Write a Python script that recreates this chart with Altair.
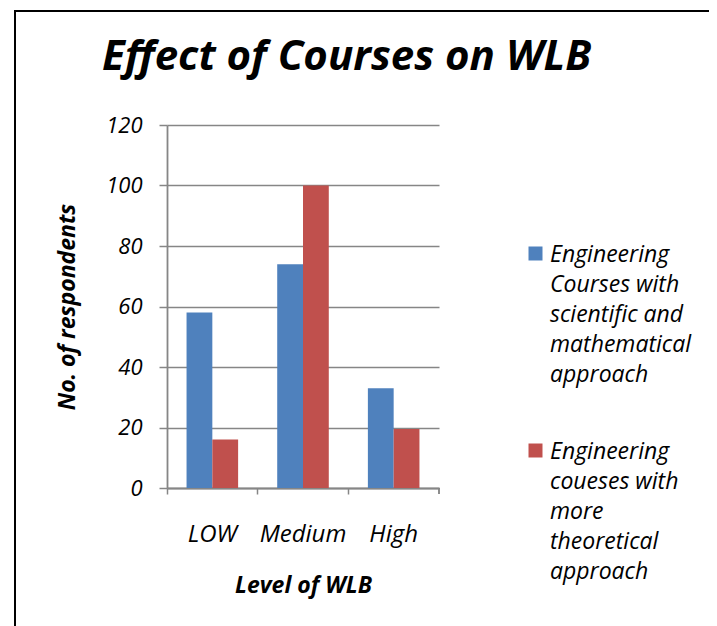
import altair as alt
import pandas as pd

levels = ["LOW", "Medium", "High"]
series_names = [
    "Engineering\nCourses  with\nscientific and\nmathematical\napproach",
    "Engineering\ncoueses with\nmore\ntheoretical\napproach",
]
scientific = [58, 74, 33]
theoretical = [16, 100, 19.5]
colors = ["#4F81BD", "#C0504D"]
y_ticks = [0, 20, 40, 60, 80, 100, 120]
title_text = "Effect of Courses  on WLB"
x_title = "Level of WLB"
y_title = "No. of respondents"

rows = []
for i, lv in enumerate(levels):
    rows.append({"level": lv, "series": series_names[0], "value": scientific[i]})
    rows.append({"level": lv, "series": series_names[1], "value": theoretical[i]})
df = pd.DataFrame(rows)

W, H = 272, 363
FONT = "Open Sans"
GRAY = "#868686"
LABEL_DY = 8  # shared vertical nudge of guide labels (used to align legend text with symbols)

legend = alt.Legend(
    title=None, orient="none", legendX=357, legendY=117,
    symbolType="square", symbolSize=196, symbolStrokeWidth=0,
    labelFont=FONT, labelFontSize=23, labelFontStyle="italic", labelColor="black",
    labelExpr="split(datum.label, '\\n')", labelOffset=3, rowPadding=52,
    labelLimit=0, labelBaseline="alphabetic",
)

xscale = alt.Scale(domain=levels, paddingInner=0, paddingOuter=0)

bars = alt.Chart(df).mark_bar().encode(
    x=alt.X(
        "level:N", sort=levels, scale=xscale,
        axis=alt.Axis(
            title=x_title, bandPosition=0, tickSize=6, tickColor=GRAY, tickWidth=1.5,
            domainColor=GRAY, domainWidth=1.8, grid=False,
            labelPadding=28 - LABEL_DY, labelFont=FONT, labelFontSize=24, labelFontStyle="italic",
            labelAngle=0, labelColor="black",
            titleFont=FONT, titleFontSize=23, titleFontStyle="italic", titleFontWeight="bold",
            titleColor="black", titleY=97, titleBaseline="middle",
        ),
    ),
    xOffset=alt.XOffset("series:N", sort=series_names,
                        scale=alt.Scale(paddingInner=0, paddingOuter=0.758)),
    y=alt.Y(
        "value:Q", scale=alt.Scale(domain=[0, 120]),
        axis=alt.Axis(
            values=y_ticks, title=y_title, tickSize=8, tickColor=GRAY, tickWidth=1.5,
            domainColor=GRAY, domainWidth=1.8, gridColor=GRAY, gridWidth=1.5,
            labelPadding=17, labelOffset=-LABEL_DY, labelFont=FONT, labelFontSize=22,
            labelFontStyle="italic", labelColor="black",
            titleFont=FONT, titleFontSize=23, titleFontStyle="italic", titleFontWeight="bold",
            titleColor="black", titleX=-100, titleY=H / 2, titleAngle=270,
            titleBaseline="middle", titleAlign="center",
        ),
    ),
    color=alt.Color("series:N", sort=series_names,
                    scale=alt.Scale(domain=series_names, range=colors),
                    legend=legend),
)

end_tick = alt.Chart(df[df["level"] == levels[-1]]).mark_rule(
    color=GRAY, strokeWidth=1.5
).encode(
    x=alt.X("level:N", sort=levels, scale=xscale, bandPosition=1),
    y=alt.value(H), y2=alt.value(H + 6),
)

border = alt.Chart(pd.DataFrame({"b": [0]})).mark_rect(
    fillOpacity=0, stroke="black", strokeWidth=2
).encode(
    x=alt.value(-152), x2=alt.value(545), y=alt.value(-114), y2=alt.value(520)
)

chart = alt.layer(bars, end_tick, border).properties(
    width=W, height=H,
    title=alt.TitleParams(
        title_text, font=FONT, fontSize=42, fontStyle="italic", fontWeight="bold",
        color="black", anchor="start", frame="group", dx=-65, offset=-102,
        baseline="alphabetic",
    ),
    autosize=alt.AutoSizeParams(type="none"),
    padding={"left": 159, "top": 117, "right": 270, "bottom": 138},
).configure(
    background="white",
    style={"guide-label": {"lineHeight": 30, "dy": LABEL_DY}},
).configure_view(strokeWidth=0)

chart.save("out.html", embed_options={"renderer": "svg", "actions": False})
